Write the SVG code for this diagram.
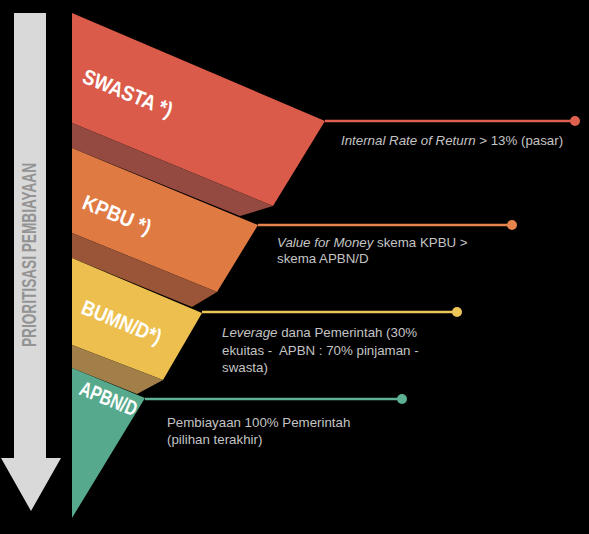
<svg xmlns="http://www.w3.org/2000/svg" width="589" height="534" viewBox="0 0 589 534">
<style>
.lbl{font-family:"Liberation Sans",Arial,sans-serif;font-weight:bold;font-size:21px;fill:#ffffff}
.desc{font-family:"Liberation Sans",Arial,sans-serif;font-size:13.3px;fill:#c4c4c4}
.it{font-style:italic}
.ln{stroke-width:2.5;fill:none}
</style>
<rect width="589" height="534" fill="#000"/>
<g id="arrow">
<polygon points="14,13 46,13 46,458 61,458 31,511 1,458 14,458" fill="#d9d9d9"/>
<text transform="translate(36,347) rotate(-90)" font-family="Liberation Sans,Arial,sans-serif" font-weight="bold" font-size="21" fill="#939393" textLength="184" lengthAdjust="spacingAndGlyphs">PRIORITISASI PEMBIAYAAN</text>
</g>
<g id="connectors">
<line class="ln" x1="325" y1="121" x2="575" y2="121" stroke="#e0604f"/>
<circle cx="575" cy="121" r="5" fill="#e0604f"/>
<line class="ln" x1="258" y1="225" x2="512" y2="225" stroke="#e5844b"/>
<circle cx="512" cy="225" r="5" fill="#e5844b"/>
<line class="ln" x1="202" y1="312" x2="457" y2="312" stroke="#eec559"/>
<circle cx="457" cy="312" r="5" fill="#eec559"/>
<line class="ln" x1="145" y1="399" x2="402" y2="399" stroke="#5bb192"/>
<circle cx="402" cy="399" r="5" fill="#5bb192"/>
</g>
<g id="swasta">
<polygon points="72,13 325,121 273,206 72,123" fill="#da5b49"/>
<polygon points="72,123 273,206 240,216 72,148" fill="#944a40"/>
<text class="lbl" transform="translate(81,82) rotate(22)" textLength="95" lengthAdjust="spacingAndGlyphs">SWASTA *)</text>
<text class="desc" x="341" y="145"><tspan class="it">Internal Rate of Return</tspan> &gt; 13% (pasar)</text>
</g>
<g id="kpbu">
<polygon points="72,148 258,225 217,292 72,233" fill="#df7a42"/>
<polygon points="72,233 217,292 192,307 72,258" fill="#9a5538"/>
<text class="lbl" transform="translate(81,208) rotate(22)" textLength="72" lengthAdjust="spacingAndGlyphs">KPBU *)</text>
<text class="desc" x="277" y="247"><tspan class="it">Value for Money</tspan> skema KPBU &gt;</text>
<text class="desc" x="277" y="263">skema APBN/D</text>
</g>
<g id="bumn">
<polygon points="72,258 202,313 163,380 72,345" fill="#ecbf4f"/>
<polygon points="72,345 163,380 137,394 72,368" fill="#a27f49"/>
<text class="lbl" transform="translate(80,313) rotate(22)" textLength="84" lengthAdjust="spacingAndGlyphs">BUMN/D*)</text>
<text class="desc" x="222" y="337"><tspan class="it">Leverage</tspan> dana Pemerintah (30%</text>
<text class="desc" x="222" y="355" xml:space="preserve">ekuitas -  APBN : 70% pinjaman -</text>
<text class="desc" x="222" y="372">swasta)</text>
</g>
<g id="apbn">
<polygon points="72,368 145,398 72,518" fill="#56a98c"/>
<text class="lbl" transform="translate(78,394) rotate(22)" textLength="60" lengthAdjust="spacingAndGlyphs">APBN/D</text>
<text class="desc" x="167" y="427">Pembiayaan 100% Pemerintah</text>
<text class="desc" x="167" y="444">(pilihan terakhir)</text>
</g>
</svg>
